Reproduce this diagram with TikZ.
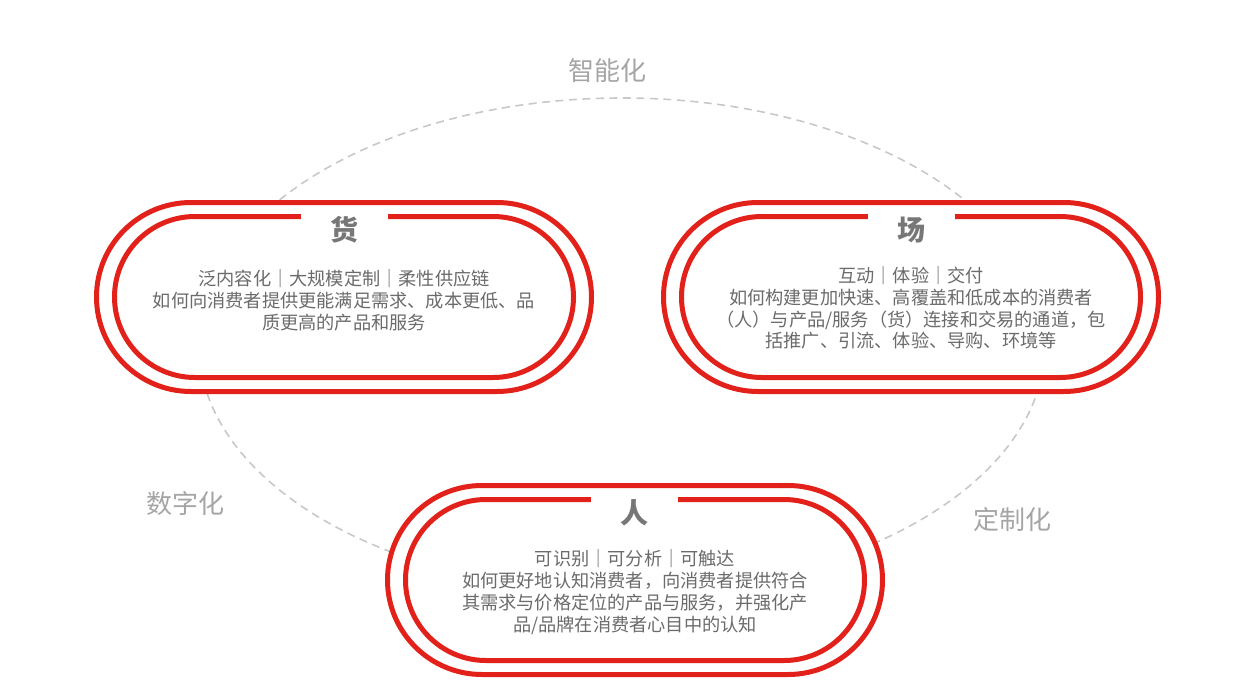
\documentclass[tikz,border=0pt]{standalone}
\usepackage{fontspec}
\usetikzlibrary{shapes.misc}
\newfontfamily\cjk{Noto Sans CJK SC}
\definecolor{rojoAnillo}{HTML}{E3211B}
\definecolor{grisTexto}{HTML}{6B6B6B}
\definecolor{grisTitulo}{HTML}{777777}
\definecolor{grisEje}{HTML}{A5A5A5}
\definecolor{grisLinea}{HTML}{C8C8C8}

\begin{document}
\begin{tikzpicture}[x=.5pt,y=-.5pt,
  anillo/.style={rounded rectangle,draw=rojoAnillo,line width=2.5pt,
    fill=white,inner sep=0pt,minimum width=247.5pt,minimum height=94.5pt},
  anilloInt/.style={rounded rectangle,draw=rojoAnillo,line width=2.5pt,
    inner sep=0pt,minimum width=229.5pt,minimum height=80.5pt},
  titulo/.style={fill=white,inner sep=0pt,minimum width=43.5pt,
    minimum height=20pt,text=grisTitulo,
    font=\cjk\bfseries\fontsize{14pt}{16pt}\selectfont},
  cuerpo/.style={align=center,text=grisTexto,
    font=\cjk\fontsize{9.1pt}{10.9pt}\selectfont},
  eje/.style={text=grisEje,font=\cjk\fontsize{13pt}{15pt}\selectfont}]
  \useasboundingbox (0,0) rectangle (1242,680);
  % dashed ring behind the three blocks
  \draw[grisLinea,line width=.8pt,dash pattern=on 4pt off 2.75pt]
    (622,345) ellipse [x radius=211.5pt,y radius=123.5pt];
  \node[eje] (intel) at (607,71) {智能化};
  \node[eje] (digit) at (185,504) {数字化};
  \node[eje] (custom) at (1012,520) {定制化};

  % goods
  \node[anillo] (huo) at (344,297) {};
  \node[anilloInt] (huoIn) at (344,297) {};
  \node[titulo] (huoT) at (344,230) {货};
  \node[cuerpo] (huoTxt) at (344,300)
    {泛内容化｜大规模定制｜柔性供应链\\
     如何向消费者提供更能满足需求、成本更低、品\\
     质更高的产品和服务};

  % place
  \node[anillo] (chang) at (911,297) {};
  \node[anilloInt] (changIn) at (911,297) {};
  \node[titulo] (changT) at (911,230) {场};
  \node[cuerpo] (changTxt) at (911,308)
    {互动｜体验｜交付\\
     如何构建更加快速、高覆盖和低成本的消费者\\
     （人）与产品/服务（货）连接和交易的通道，包\\
     括推广、引流、体验、导购、环境等};

  % people
  \node[anillo] (ren) at (635,580) {};
  \node[anilloInt] (renIn) at (635,580) {};
  \node[titulo] (renT) at (634,513) {人};
  \node[cuerpo] (renTxt) at (635,592)
    {可识别｜可分析｜可触达\\
     如何更好地认知消费者，向消费者提供符合\\
     其需求与价格定位的产品与服务，并强化产\\
     品/品牌在消费者心目中的认知};
\end{tikzpicture}
\end{document}
